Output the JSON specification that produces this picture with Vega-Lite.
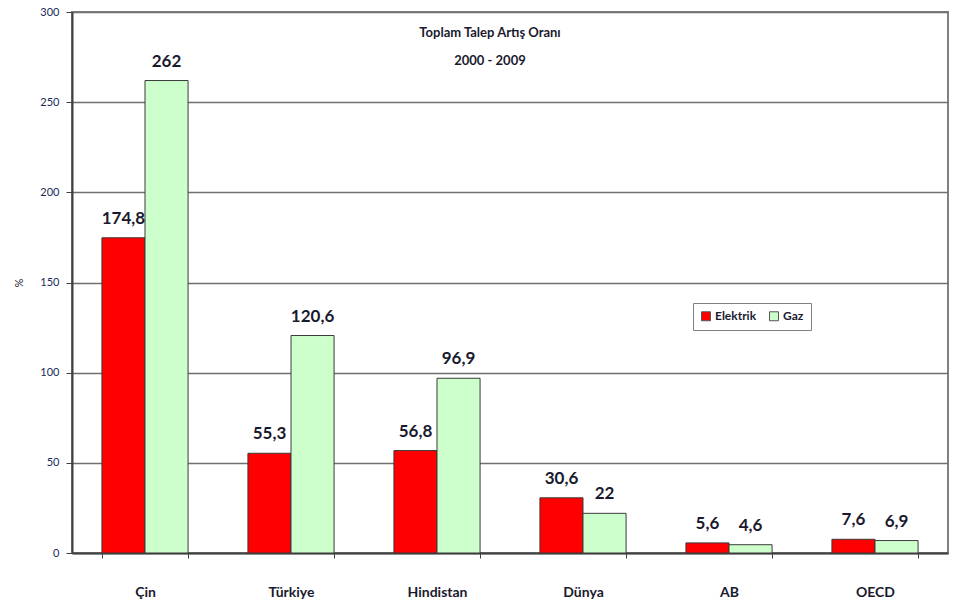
{
  "$schema": "https://vega.github.io/schema/vega-lite/v6.json",
  "autosize": {"type": "none"},
  "width": 876,
  "height": 541,
  "padding": {"left": 72, "top": 12, "right": 7, "bottom": 52},
  "background": "white",
  "data": {
    "values": [
      {"bolge": "Çin", "tur": "Elektrik", "deger": 174.8, "etiket": "174,8"},
      {"bolge": "Çin", "tur": "Gaz", "deger": 262, "etiket": "262"},
      {"bolge": "Türkiye", "tur": "Elektrik", "deger": 55.3, "etiket": "55,3"},
      {"bolge": "Türkiye", "tur": "Gaz", "deger": 120.6, "etiket": "120,6"},
      {"bolge": "Hindistan", "tur": "Elektrik", "deger": 56.8, "etiket": "56,8"},
      {"bolge": "Hindistan", "tur": "Gaz", "deger": 96.9, "etiket": "96,9"},
      {"bolge": "Dünya", "tur": "Elektrik", "deger": 30.6, "etiket": "30,6"},
      {"bolge": "Dünya", "tur": "Gaz", "deger": 22, "etiket": "22"},
      {"bolge": "AB", "tur": "Elektrik", "deger": 5.6, "etiket": "5,6"},
      {"bolge": "AB", "tur": "Gaz", "deger": 4.6, "etiket": "4,6"},
      {"bolge": "OECD", "tur": "Elektrik", "deger": 7.6, "etiket": "7,6"},
      {"bolge": "OECD", "tur": "Gaz", "deger": 6.9, "etiket": "6,9"}
    ]
  },
  "title": {
    "text": ["Toplam Talep Artış Oranı", "2000 - 2009"],
    "orient": "top",
    "anchor": "middle",
    "frame": "group",
    "offset": -62,
    "dx": -20,
    "font": "Lato",
    "fontSize": 13,
    "fontWeight": "bold",
    "color": "#1a1a2e",
    "lineHeight": 28
  },
  "encoding": {
    "x": {
      "field": "bolge",
      "type": "nominal",
      "sort": null,
      "title": null,
      "scale": {"paddingInner": 0.41, "paddingOuter": 0.205},
      "axis": {
        "labelAngle": 0,
        "labelFont": "Lato",
        "labelFontSize": 14,
        "labelFontWeight": "bold",
        "labelColor": "#1a1a2e",
        "labelPadding": 27,
        "tickBand": "extent",
        "tickColor": "#404040",
        "tickSize": 5,
        "domainColor": "#404040",
        "domainWidth": 2
      }
    },
    "xOffset": {"field": "tur", "type": "nominal", "scale": {"paddingInner": 0, "paddingOuter": 0}},
    "y": {
      "field": "deger",
      "type": "quantitative",
      "title": "%",
      "scale": {"domain": [0, 300]},
      "axis": {
        "values": [0, 50, 100, 150, 200, 250, 300],
        "labelFont": "Lato",
        "labelFontSize": 11,
        "labelColor": "#1a2a5a",
        "titleFont": "Lato",
        "titleFontSize": 11,
        "titleFontWeight": "normal",
        "titleColor": "#1a1a2e",
        "titlePadding": 15,
        "gridColor": "#707070",
        "gridWidth": 1.5,
        "tickColor": "#404040",
        "tickSize": 6,
        "domainColor": "#404040",
        "domainWidth": 2,
        "labelPadding": 7
      }
    }
  },
  "layer": [
    {
      "mark": {"type": "bar", "stroke": "#3a3a3a", "strokeWidth": 1},
      "encoding": {
        "color": {
          "field": "tur",
          "type": "nominal",
          "title": null,
          "scale": {"domain": ["Elektrik", "Gaz"], "range": ["#ff0000", "#ccffcc"]},
          "legend": {
            "orient": "none",
            "legendX": 621,
            "legendY": 291,
            "direction": "horizontal",
            "symbolType": "square",
            "symbolSize": 80,
            "symbolStrokeColor": "#555555",
            "symbolStrokeWidth": 1,
            "labelFont": "Lato",
            "labelFontSize": 12,
            "labelFontWeight": "bold",
            "labelColor": "#1a1a2e",
            "columnPadding": 10,
            "padding": 7,
            "strokeColor": "#808080",
            "fillColor": "white",
            "labelOffset": 3
          }
        }
      }
    },
    {
      "mark": {"type": "text", "baseline": "bottom", "dy": -10, "font": "Lato", "fontSize": 17, "fontWeight": "bold", "color": "#1a1a2e"},
      "encoding": {"text": {"field": "etiket"}}
    }
  ],
  "config": {
    "view": {"stroke": "#808080", "strokeWidth": 2},
    "font": "Lato"
  }
}
